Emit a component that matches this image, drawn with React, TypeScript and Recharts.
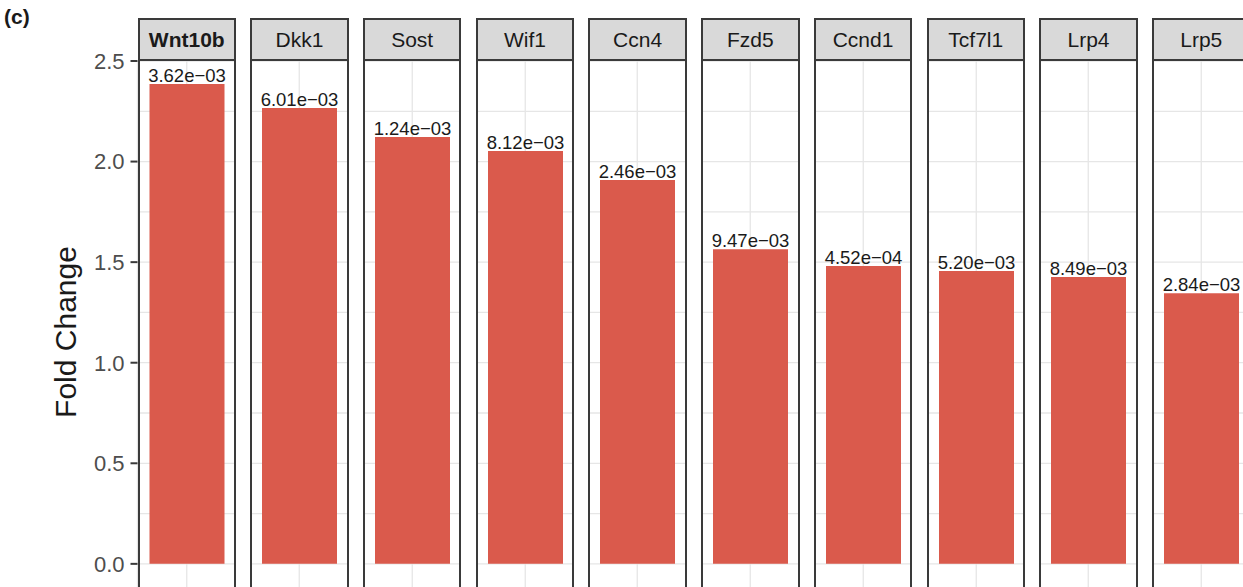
import React from "react";
import { BarChart, Bar, XAxis, YAxis, CartesianGrid, LabelList } from "recharts";

const genes = ["Wnt10b", "Dkk1", "Sost", "Wif1", "Ccn4", "Fzd5", "Ccnd1", "Tcf7l1", "Lrp4", "Lrp5"];
const foldChanges = [2.386, 2.266, 2.122, 2.053, 1.909, 1.564, 1.481, 1.456, 1.426, 1.345];
const pValues = ["3.62e\u221203", "6.01e\u221203", "1.24e\u221203", "8.12e\u221203", "2.46e\u221203", "9.47e\u221203", "4.52e\u221204", "5.20e\u221203", "8.49e\u221203", "2.84e\u221203"];
const yTicks = [0, 0.5, 1.0, 1.5, 2.0, 2.5];
const gridValues = [0, 0.25, 0.5, 0.75, 1.0, 1.25, 1.5, 1.75, 2.0, 2.25, 2.5];
const boldGene = "Wnt10b";

const FONT = "'Liberation Sans', Arial, Helvetica, sans-serif";
const BAR_COLOR = "#DA5A4C";
const BORDER = "#3a3a3a";

const PANEL_X0 = 137.5;
const PANEL_PITCH = 112.72;
const PANEL_W = 98.5;
const STRIP_TOP = 18;
const STRIP_H = 43;
const TOP_PAD = 20;
const CHART_TOP = 61 - TOP_PAD;
const CHART_H = 528 + TOP_PAD;
const Y_DOMAIN: [number, number] = [-0.125, 2.5];
const Y_AXIS_W = 137.5;

function Panel({ index }: { index: number }) {
  const gene = genes[index];
  const data = [{ gene, fc: foldChanges[index], p: pValues[index] }];
  const left = PANEL_X0 + index * PANEL_PITCH;
  const first = index === 0;
  const chartLeft = first ? left - Y_AXIS_W : left;
  const chartW = first ? PANEL_W + Y_AXIS_W : PANEL_W;
  return (
    <>
      <div
        style={{
          position: "absolute",
          left,
          top: STRIP_TOP,
          width: PANEL_W,
          height: STRIP_H,
          boxSizing: "border-box",
          background: "#d9d9d9",
          border: `2px solid ${BORDER}`,
          display: "flex",
          alignItems: "center",
          justifyContent: "center",
          fontFamily: FONT,
          fontSize: 21,
          color: "#1a1a1a",
          fontWeight: gene === boldGene ? "bold" : "normal",
        }}
      >
        {gene}
      </div>
      <div style={{ position: "absolute", left: chartLeft, top: CHART_TOP, width: chartW, height: CHART_H }}>
        <BarChart
          width={chartW}
          height={CHART_H}
          data={data}
          margin={{ top: TOP_PAD, right: 0, bottom: 0, left: 0 }}
          barSize={75}
        >
          <CartesianGrid
            stroke="#e6e6e6"
            strokeWidth={1.3}
            horizontalValues={gridValues}
            vertical={true}
          />
          <XAxis dataKey="gene" type="category" hide />
          <YAxis
            type="number"
            domain={Y_DOMAIN}
            ticks={yTicks}
            allowDataOverflow
            interval={0}
            hide={!first}
            width={first ? Y_AXIS_W : 0}
            axisLine={false}
            tickSize={7}
            tickMargin={6}
            tickLine={{ stroke: BORDER, strokeWidth: 2 }}
            tick={{ fill: "#4d4d4d", fontSize: 22, fontFamily: FONT }}
            tickFormatter={(v: number) => v.toFixed(1)}
          />
          <Bar dataKey="fc" fill={BAR_COLOR} isAnimationActive={false}>
            <LabelList
              dataKey="p"
              position="top"
              offset={2}
              style={{ fill: "#1a1a1a", fontSize: 18.5, fontFamily: FONT }}
            />
          </Bar>
        </BarChart>
      </div>
      <div
        style={{
          position: "absolute",
          left,
          top: STRIP_TOP + STRIP_H - 2,
          width: PANEL_W,
          height: 600,
          boxSizing: "border-box",
          border: `2px solid ${BORDER}`,
          pointerEvents: "none",
        }}
      />
    </>
  );
}

export default function App() {
  return (
    <div
      style={{
        position: "absolute",
        left: 0,
        top: 0,
        width: 1243,
        height: 587,
        overflow: "hidden",
        background: "#ffffff",
        fontFamily: FONT,
      }}
    >
      <div style={{ position: "absolute", left: 4, top: 5, fontSize: 21, fontWeight: "bold", color: "#1a1a1a" }}>(c)</div>
      <div
        style={{
          position: "absolute",
          left: 66,
          top: 332,
          transform: "translate(-50%, -50%) rotate(-90deg)",
          fontSize: 30,
          color: "#1a1a1a",
          whiteSpace: "nowrap",
        }}
      >
        Fold Change
      </div>
      {genes.map((g, i) => (
        <Panel key={g} index={i} />
      ))}
    </div>
  );
}
